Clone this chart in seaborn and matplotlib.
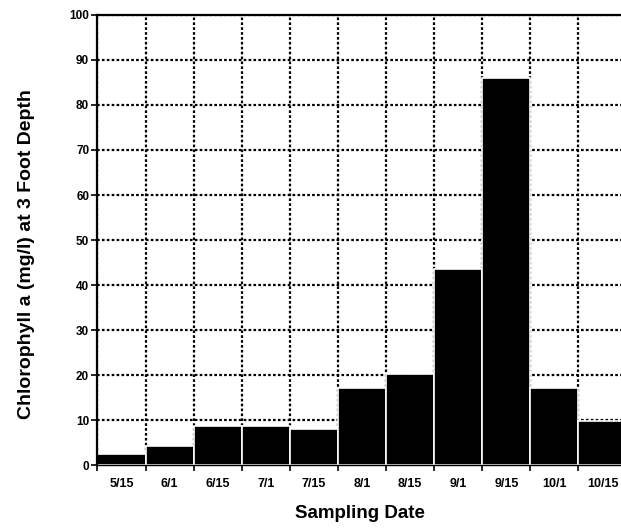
import matplotlib
matplotlib.use("Agg")
import matplotlib.pyplot as plt
import numpy as np
import pandas as pd
import seaborn as sns

# Chlorophyll a readings per sampling date
dates = ["5/15", "6/1", "6/15", "7/1", "7/15", "8/1", "8/15", "9/1", "9/15", "10/1", "10/15"]
chlorophyll = [2.4, 4.2, 8.7, 8.7, 8.0, 17.1, 20.3, 43.5, 86.0, 17.1, 9.8]
y_ticks = [0, 10, 20, 30, 40, 50, 60, 70, 80, 90, 100]

sns.set_style("white")
plt.rcParams["font.family"] = ["Liberation Sans", "DejaVu Sans"]
plt.rcParams["font.weight"] = "bold"
plt.rcParams["text.color"] = "black"
plt.rcParams["axes.labelcolor"] = "black"
plt.rcParams["xtick.color"] = "black"
plt.rcParams["ytick.color"] = "black"

df = pd.DataFrame({"date": dates, "chl": chlorophyll})

fig = plt.figure(figsize=(6.21, 5.28), dpi=100)
ax = fig.add_axes([0.157, 0.1193, 0.852, 0.8523])

sns.barplot(data=df, x="date", y="chl", color="black", width=1.0,
            edgecolor="white", linewidth=1.2, saturation=1, ax=ax, zorder=2)

ax.set_xlim(-0.5, len(dates) - 0.5)
ax.set_ylim(0, 100)
ax.set_yticks(y_ticks)
ax.set_yticklabels([str(v) for v in y_ticks], fontsize=8.5, fontweight="bold")

# labels at bar centres, tick marks and grid at bar boundaries
ax.set_xticks(range(len(dates)))
ax.set_xticklabels(dates, fontsize=9, fontweight="bold")
ax.set_xticks(np.arange(-0.5, len(dates), 1.0), minor=True)
ax.tick_params(axis="x", which="major", length=0, pad=9)
ax.tick_params(axis="x", which="minor", length=4, width=1.2, direction="out", color="black")
ax.tick_params(axis="y", length=4, width=1.2, direction="out", color="black", pad=2)
ax.tick_params(bottom=True, left=True, which="both")

ax.grid(False)
ax.yaxis.grid(True, which="major", linestyle=(0, (1.2, 1.0)), color="black", linewidth=1.6)
ax.xaxis.grid(True, which="minor", linestyle=(0, (1.2, 1.0)), color="black", linewidth=1.6)
ax.set_axisbelow(True)

for side in ["left", "top", "bottom", "right"]:
    ax.spines[side].set_visible(True)
    ax.spines[side].set_color("black")
    ax.spines[side].set_linewidth(1.6)
ax.spines["bottom"].set_linewidth(1.0)

ax.set_xlabel("Sampling Date", fontsize=13.5, fontweight="bold")
ax.set_ylabel("Chlorophyll a (mg/l) at 3 Foot Depth", fontsize=14, fontweight="bold")
ax.xaxis.set_label_coords(0.496, -0.089)
ax.yaxis.set_label_coords(-0.119, 0.469)

fig.savefig("out.png", dpi=100)
